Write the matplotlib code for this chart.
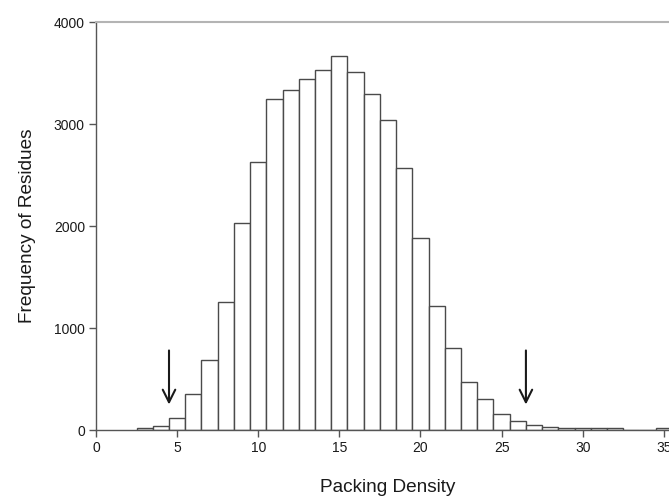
import matplotlib.pyplot as plt
import numpy as np

plt.rcParams['font.family'] = ['Liberation Sans', 'DejaVu Sans']

# packing density bins (centre of each unit-wide bin) and residue counts
density = np.arange(3, 36)
counts = [17, 40, 115, 353, 683, 1252, 2026, 2624, 3248, 3330, 3441,
          3532, 3667, 3513, 3291, 3042, 2565, 1885, 1218, 804, 474, 301,
          157, 91, 46, 26, 17, 17, 17, 17, 0, 0, 17]

# arrows marking the cut-offs: (x, top, tip)
arrows = [(4.5, 780, 250), (26.5, 780, 250)]

xticks = [0, 5, 10, 15, 20, 25, 30, 35]
yticks = [0, 1000, 2000, 3000, 4000]

fig = plt.figure(figsize=(6.69, 4.98), dpi=100)
ax = fig.add_axes([0.1435, 0.1365, 0.873, 0.8193])

ax.bar(density, counts, width=1.0, facecolor='white', edgecolor='#4a4a4a',
       linewidth=1.0, align='center')

for x, top, tip in arrows:
    ax.annotate('', xy=(x, tip), xytext=(x, top),
                arrowprops=dict(arrowstyle='->,head_length=0.9,head_width=0.45',
                                color='#1a1a1a', lw=1.5, shrinkA=0, shrinkB=0))

ax.set_xlim(0, 36)
ax.set_ylim(0, 4000)
ax.set_xticks(xticks)
ax.set_yticks(yticks)

for side in ['left', 'bottom']:
    ax.spines[side].set_color('#555555')
    ax.spines[side].set_linewidth(1.0)
ax.spines['top'].set_color('#b4b4b4')
ax.spines['top'].set_linewidth(1.5)
ax.spines['right'].set_visible(False)

ax.tick_params(direction='out', length=5, width=1, color='#555555',
               labelsize=10, labelcolor='#1a1a1a', pad=3)

ax.set_xlabel('Packing Density', fontsize=13.7, color='#1a1a1a', labelpad=17)
ax.set_ylabel('Frequency of Residues', fontsize=13.7, color='#1a1a1a', labelpad=13)

fig.savefig('out.png', dpi=100)
